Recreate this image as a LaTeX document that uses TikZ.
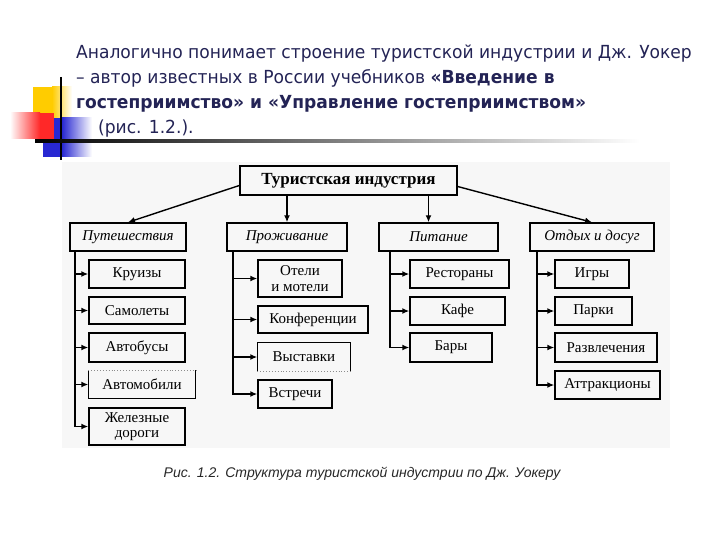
\documentclass[tikz,border=0pt]{standalone}
\usepackage{fontspec}
\setmainfont{Liberation Serif}
\newfontfamily\hdrfont[FakeStretch=0.95]{DejaVu Sans}
\newfontfamily\capfont{Liberation Sans}
\usetikzlibrary{arrows.meta}
\definecolor{hdr}{RGB}{35,35,85}
\definecolor{decoyellow}{RGB}{255,204,0}
\definecolor{decored}{RGB}{255,40,40}
\definecolor{decoblue}{RGB}{40,40,210}
\begin{document}
\begin{tikzpicture}[x=1pt,y=-1pt,
  box/.style={draw, line width=1.4pt, inner sep=0pt, align=center,
    font=\fontsize{15}{15.5}\selectfont},
  catbox/.style={box, font=\fontsize{15}{16}\selectfont\itshape},
  topbox/.style={box, font=\fontsize{17}{19}\selectfont\bfseries},
  openbox/.style={box, draw=none},
  conn/.style={line width=1.4pt},
  arr/.style={conn, -{Latex[length=7pt,width=6pt]}},
  hdrline/.style={anchor=base west, inner sep=0pt, text=hdr,
    font=\hdrfont\fontsize{18}{20}\selectfont}]
\useasboundingbox (0,0) rectangle (720,540);
% decoration
\fill[decoyellow] (33,87) rectangle (52,120);
\shade[left color=decoyellow, right color=white] (52,87) rectangle (72,120);
\fill[decoblue] (43,118) rectangle (62,157);
\shade[left color=decoblue, right color=white] (62,118) rectangle (92,157);
\shade[left color=white, right color=decored] (10,113) rectangle (40,139);
\fill[decored] (40,113) rectangle (54,139);
\draw[line width=1.6pt] (61,77) -- (61,160);
\shade[left color=black, right color=white] (35,139.8) rectangle (640,142.4);
% header text
\node[hdrline] (h1) at (76,59) {Аналогично понимает строение туристской индустрии и Дж. Уокер};
\node[hdrline] (h2) at (76,84) {– автор известных в России учебников \textbf{«Введение в}};
\node[hdrline] (h3) at (76,109) {\textbf{гостеприимство» и «Управление гостеприимством»}};
\node[hdrline] (h4) at (98,134) {(рис. 1.2.).};
% diagram background
\fill[black!3] (62,162) rectangle (670,448);
% top
\node[topbox, minimum width=217pt, minimum height=29pt] (T) at (348.5,180.5) {Туристская индустрия};
% categories
\node[catbox, minimum width=116pt, minimum height=28pt] (p1) at (128,237) {Путешествия};
\node[catbox, minimum width=120pt, minimum height=28pt] (p2) at (287,237) {Проживание};
\node[catbox, minimum width=119pt, minimum height=28pt] (p3) at (438.5,237) {Питание};
\node[catbox, minimum width=124pt, minimum height=28pt] (p4) at (592,237) {Отдых и досуг};
% column 1
\node[box, minimum width=96pt, minimum height=28pt] (a1) at (137,274) {Круизы};
\node[box, minimum width=96pt, minimum height=27pt] (a2) at (137,310.5) {Самолеты};
\node[box, minimum width=96pt, minimum height=29pt] (a3) at (137,347.5) {Автобусы};
\node[openbox, minimum width=106pt, minimum height=27pt] (a4) at (142,384.5) {Автомобили};
\node[box, minimum width=96pt, minimum height=37pt] (a5) at (137,426.5) {Железные\\дороги};
% column 2
\node[box, minimum width=84pt, minimum height=37pt] (b1) at (300,278.5) {Отели\\и мотели};
\node[box, minimum width=110pt, minimum height=27pt] (b2) at (313,319.5) {Конференции};
\node[openbox, minimum width=92pt, minimum height=28pt] (b3) at (304,357) {Выставки};
\node[box, minimum width=74pt, minimum height=28pt] (b4) at (295,394) {Встречи};
% column 3
\node[box, minimum width=99pt, minimum height=28pt] (c1) at (459.5,274) {Рестораны};
\node[box, minimum width=95pt, minimum height=28pt] (c2) at (457.5,311) {Кафе};
\node[box, minimum width=82pt, minimum height=29pt] (c3) at (451,347.5) {Бары};
% column 4
\node[box, minimum width=74pt, minimum height=28pt] (d1) at (592,274) {Игры};
\node[box, minimum width=77pt, minimum height=28pt] (d2) at (593.5,311) {Парки};
\node[box, minimum width=102pt, minimum height=29pt] (d3) at (606,347.5) {Развлечения};
\node[box, minimum width=105pt, minimum height=28pt] (d4) at (607.5,385) {Аттракционы};
% open-edged boxes
\draw[line width=1.4pt] (a4.north west) -- (a4.south west) -- (a4.south east) -- (a4.north east);
\draw[line width=0.9pt, dotted, black!45] (a4.north west) -- (a4.north east);
\draw[line width=1.4pt] (b3.south west) -- (b3.north west) -- (b3.north east) -- (b3.south east);
\draw[line width=0.9pt, dotted, black!45] (b3.south west) -- (b3.south east);
% top arrows
\coordinate (p3in) at ([xshift=-10pt]p3.north);
\draw[arr] ([yshift=-5pt]T.west) -- (p1.north);
\draw[arr] (T.south -| p2.north) -- (p2.north);
\draw[arr] (T.south -| p3in) -- (p3in);
\draw[arr] ([yshift=-6pt]T.east) -- (p4.north);
% trunks
\coordinate (t1) at (75,251);
\coordinate (t2) at (233,251);
\coordinate (t3) at (390,251);
\coordinate (t4) at (537,251);
\draw[arr] (t1) |- (a5.west);
\foreach \n in {a1,a2,a3,a4} \draw[arr] (t1 |- \n.west) -- (\n.west);
\draw[arr] (t2) |- (b4.west);
\foreach \n in {b1,b2,b3} \draw[arr] (t2 |- \n.west) -- (\n.west);
\draw[arr] (t3) |- (c3.west);
\foreach \n in {c1,c2} \draw[arr] (t3 |- \n.west) -- (\n.west);
\draw[arr] (t4) |- (d4.west);
\foreach \n in {d1,d2,d3} \draw[arr] (t4 |- \n.west) -- (\n.west);
% caption
\node[font=\capfont\itshape\fontsize{14}{16}\selectfont, text=black!85] (cap) at (362,474) {Рис. 1.2. Структура туристской индустрии по Дж. Уокеру};
\end{tikzpicture}
\end{document}
